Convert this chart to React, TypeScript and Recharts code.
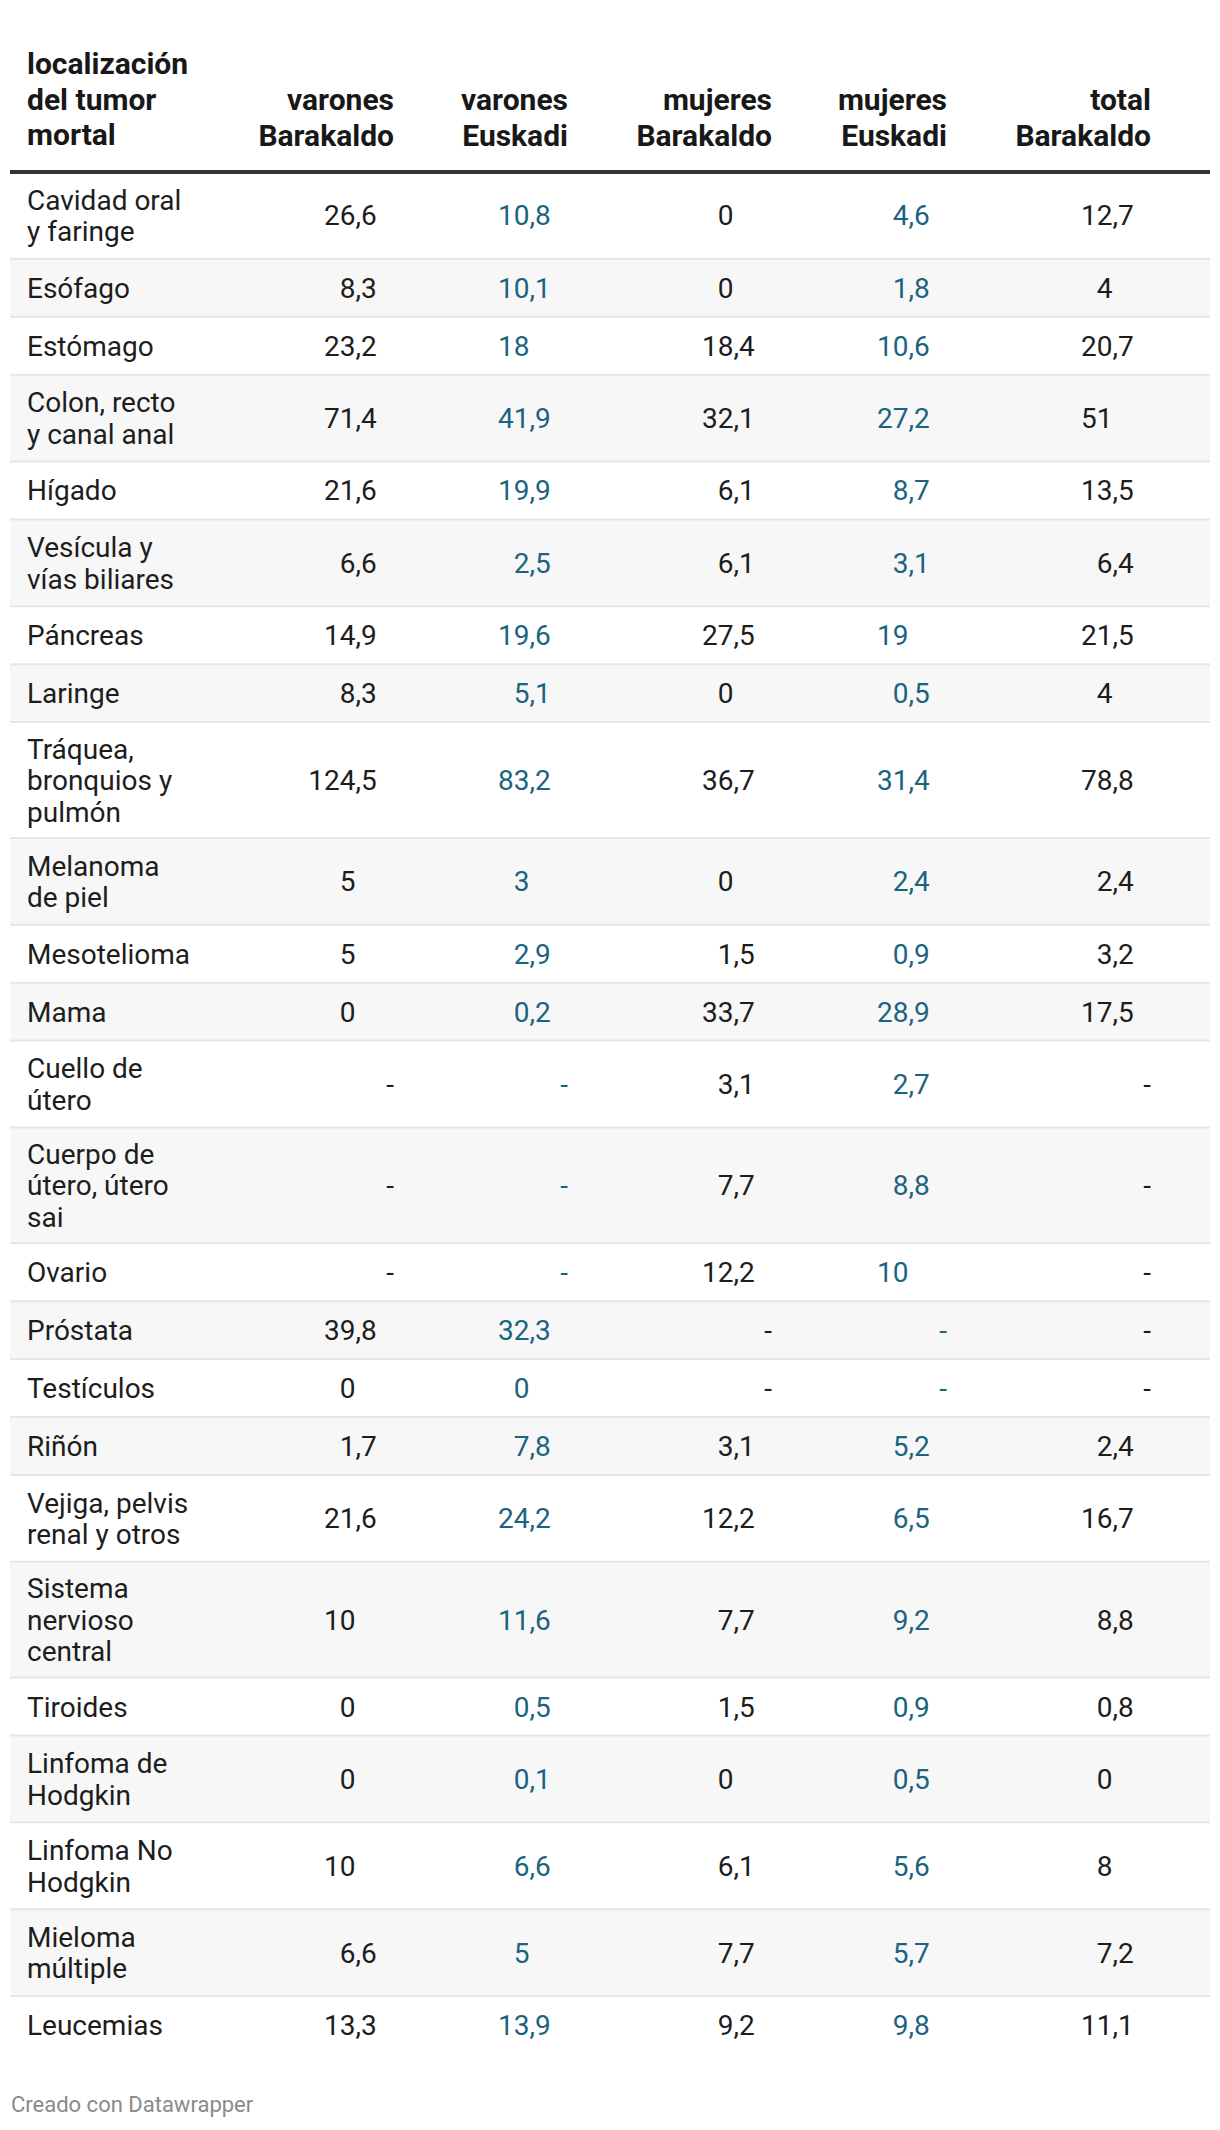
import React from 'react';
import { ComposedChart, XAxis, YAxis, Scatter, ReferenceArea, ReferenceLine } from 'recharts';

// ---------- DATA ----------
const HEADER_LABEL = ['localización', 'del tumor', 'mortal'];
const COLUMN_HEADERS = [
  ['varones', 'Barakaldo'],
  ['varones', 'Euskadi'],
  ['mujeres', 'Barakaldo'],
  ['mujeres', 'Euskadi'],
  ['total', 'Barakaldo'],
];

const LOCALIZACIONES = [
  'Cavidad oral\ny faringe',
  'Esófago',
  'Estómago',
  'Colon, recto\ny canal anal',
  'Hígado',
  'Vesícula y\nvías biliares',
  'Páncreas',
  'Laringe',
  'Tráquea,\nbronquios y\npulmón',
  'Melanoma\nde piel',
  'Mesotelioma',
  'Mama',
  'Cuello de\nútero',
  'Cuerpo de\nútero, útero\nsai',
  'Ovario',
  'Próstata',
  'Testículos',
  'Riñón',
  'Vejiga, pelvis\nrenal y otros',
  'Sistema\nnervioso\ncentral',
  'Tiroides',
  'Linfoma de\nHodgkin',
  'Linfoma No\nHodgkin',
  'Mieloma\nmúltiple',
  'Leucemias',
];

const VARONES_BARAKALDO = [26.6, 8.3, 23.2, 71.4, 21.6, 6.6, 14.9, 8.3, 124.5, 5, 5, 0, null, null, null, 39.8, 0, 1.7, 21.6, 10, 0, 0, 10, 6.6, 13.3];
const VARONES_EUSKADI = [10.8, 10.1, 18, 41.9, 19.9, 2.5, 19.6, 5.1, 83.2, 3, 2.9, 0.2, null, null, null, 32.3, 0, 7.8, 24.2, 11.6, 0.5, 0.1, 6.6, 5, 13.9];
const MUJERES_BARAKALDO = [0, 0, 18.4, 32.1, 6.1, 6.1, 27.5, 0, 36.7, 0, 1.5, 33.7, 3.1, 7.7, 12.2, null, null, 3.1, 12.2, 7.7, 1.5, 0, 6.1, 7.7, 9.2];
const MUJERES_EUSKADI = [4.6, 1.8, 10.6, 27.2, 8.7, 3.1, 19, 0.5, 31.4, 2.4, 0.9, 28.9, 2.7, 8.8, 10, null, null, 5.2, 6.5, 9.2, 0.9, 0.5, 5.6, 5.7, 9.8];
const TOTAL_BARAKALDO = [12.7, 4, 20.7, 51, 13.5, 6.4, 21.5, 4, 78.8, 2.4, 3.2, 17.5, null, null, null, null, null, 2.4, 16.7, 8.8, 0.8, 0, 8, 7.2, 11.1];

const SERIES = [VARONES_BARAKALDO, VARONES_EUSKADI, MUJERES_BARAKALDO, MUJERES_EUSKADI, TOTAL_BARAKALDO];

const FOOTER = 'Creado con Datawrapper';

// ---------- LAYOUT / STYLE ----------
const W = 1220;
const H = 2130;
const TABLE_LEFT = 10;
const TABLE_WIDTH = 1200;
const BODY_TOP = 172;
const BODY_BOTTOM = 2054;
const COL_RIGHT = [384, 558, 762, 937, 1141];
const LABEL_X = 17;
const COL_COLORS = ['#1d1d1d', '#1b6480', '#1d1d1d', '#1b6480', '#1d1d1d'];
const FONT = 'Roboto, "Noto Sans", sans-serif';
const FONT_SIZE = 28;
const HEAD_SIZE = 30;
const HEAD_SPACING = 35.5;
const LINE_SPACING = 31.5;
const BASE_OFFSET = 10;
const DEC_PAD = 17.3;
const INT_PAD = 38.5;
const TEXT = '#1d1d1d';

// rows built from the labels
let acc = 0;
const ROWS = LOCALIZACIONES.map((label, i) => {
  const lines = label.split('\n');
  const units = lines.length + 1;
  const r = { i, lines, y0: acc, y1: acc + units, y: acc + units / 2 };
  acc += units;
  return r;
});
const TOTAL_UNITS = acc;

const fmt = (v: number) => String(v).replace('.', ',');

const labelData = ROWS.map((r) => ({ x: LABEL_X, y: r.y, lines: r.lines }));
const columnData = SERIES.map((s, c) => ROWS.map((r) => ({ x: COL_RIGHT[c], y: r.y, v: s[r.i] })));

const LabelShape = (props: any) => {
  const { cx, cy, payload } = props;
  const lines: string[] = payload.lines;
  const n = lines.length;
  return (
    <text fontFamily={FONT} fontSize={FONT_SIZE} fill={TEXT}>
      {lines.map((t, k) => (
        <tspan key={k} x={cx} y={cy + (k - (n - 1) / 2) * LINE_SPACING + BASE_OFFSET}>
          {t}
        </tspan>
      ))}
    </text>
  );
};

const makeValueShape = (color: string) => (props: any) => {
  const { cx, cy, payload } = props;
  const v = payload.v;
  if (v === null || v === undefined) {
    return (
      <text x={cx} y={cy + BASE_OFFSET} textAnchor="end" fontFamily={FONT} fontSize={FONT_SIZE} fill={color}>
        -
      </text>
    );
  }
  const isInt = Number.isInteger(v);
  return (
    <text
      x={cx - (isInt ? INT_PAD : DEC_PAD)}
      y={cy + BASE_OFFSET}
      textAnchor="end"
      fontFamily={FONT}
      fontSize={FONT_SIZE}
      fill={color}
    >
      {fmt(v)}
    </text>
  );
};

export default function App() {
  return (
    <div style={{ position: 'absolute', left: 0, top: 0, width: W, height: H, background: '#ffffff' }}>
      <ComposedChart
        width={W}
        height={H}
        margin={{ top: BODY_TOP, right: W - TABLE_LEFT - TABLE_WIDTH, bottom: H - BODY_BOTTOM, left: TABLE_LEFT }}
      >
        <XAxis type="number" dataKey="x" domain={[0, TABLE_WIDTH]} hide />
        <YAxis type="number" dataKey="y" domain={[0, TOTAL_UNITS]} reversed hide />
        {ROWS.filter((r) => r.i % 2 === 1).map((r) => (
          <ReferenceArea
            key={'s' + r.i}
            y1={r.y0}
            y2={r.y1}
            fill="#f7f7f7"
            fillOpacity={1}
            stroke="none"
            ifOverflow="visible"
          />
        ))}
        {ROWS.slice(0, ROWS.length - 1).map((r) => (
          <ReferenceLine key={'b' + r.i} y={r.y1} stroke="#e6e6e6" strokeWidth={2} ifOverflow="visible" />
        ))}
        <ReferenceLine y={0} stroke="#333333" strokeWidth={4} ifOverflow="visible" />
        <Scatter data={labelData} shape={LabelShape} isAnimationActive={false} />
        {columnData.map((d, c) => (
          <Scatter key={'c' + c} data={d} shape={makeValueShape(COL_COLORS[c])} isAnimationActive={false} />
        ))}
      </ComposedChart>
      <svg
        width={W}
        height={H}
        style={{ position: 'absolute', left: 0, top: 0, pointerEvents: 'none' }}
      >
        <text fontFamily={FONT} fontSize={HEAD_SIZE} fontWeight={700} fill="#181818">
          {HEADER_LABEL.map((t, k) => (
            <tspan key={k} x={TABLE_LEFT + LABEL_X} y={74 + k * HEAD_SPACING}>
              {t}
            </tspan>
          ))}
        </text>
        {COLUMN_HEADERS.map((h, c) => (
          <text
            key={c}
            fontFamily={FONT}
            fontSize={HEAD_SIZE}
            fontWeight={700}
            fill="#181818"
            textAnchor="end"
          >
            {h.map((t, k) => (
              <tspan key={k} x={TABLE_LEFT + COL_RIGHT[c]} y={110 + k * HEAD_SPACING}>
                {t}
              </tspan>
            ))}
          </text>
        ))}
        <text x={11} y={2112} fontFamily={FONT} fontSize={22} fill="#8a8a8a">
          {FOOTER}
        </text>
      </svg>
    </div>
  );
}
